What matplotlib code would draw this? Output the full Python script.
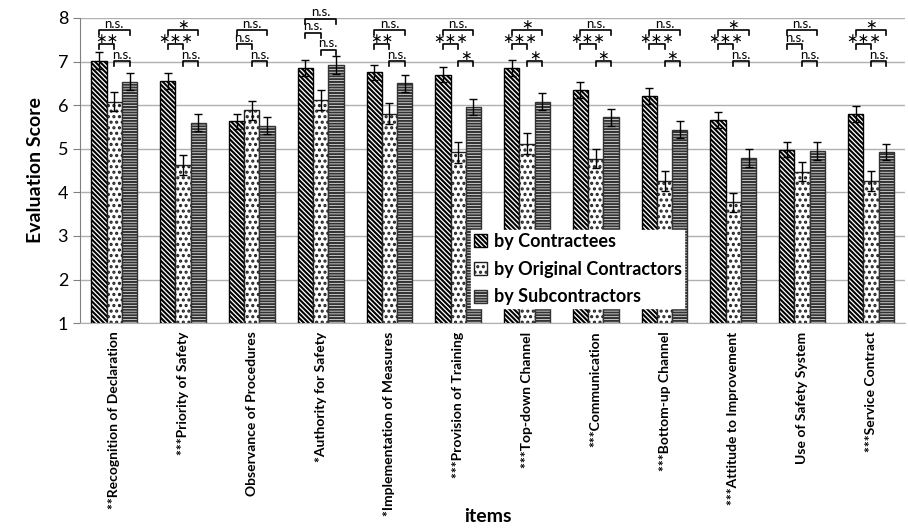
import numpy as np
import matplotlib
matplotlib.use("Agg")
import matplotlib.pyplot as plt

plt.rcParams['font.family'] = ['Lato', 'DejaVu Sans']
plt.rcParams['hatch.linewidth'] = 1.5

# item labels (significance mark of the overall test in front)
items = ["**Recognition of Declaration", "***Priority of Safety", "Observance of Procedures",
         "*Authority for Safety", "*Implementation of Measures", "***Provision of Training",
         "***Top-down Channel", "***Communication", "***Bottom-up Channel",
         "***Attitude to Improvement", "Use of Safety System", "***Service Contract"]

# mean scores
contractees = [7.02, 6.56, 5.63, 6.85, 6.75, 6.70, 6.85, 6.34, 6.21, 5.66, 4.98, 5.80]
original = [6.08, 4.63, 5.88, 6.11, 5.80, 4.92, 5.12, 4.77, 4.27, 3.77, 4.47, 4.27]
subcontractors = [6.54, 5.60, 5.53, 6.92, 6.50, 5.96, 6.08, 5.72, 5.44, 4.79, 4.95, 4.93]

# standard errors
err_c = [0.19, 0.18, 0.17, 0.18, 0.18, 0.18, 0.19, 0.18, 0.18, 0.19, 0.17, 0.18]
err_o = [0.22, 0.23, 0.22, 0.23, 0.24, 0.24, 0.23, 0.22, 0.23, 0.22, 0.22, 0.23]
err_s = [0.19, 0.19, 0.19, 0.21, 0.20, 0.19, 0.20, 0.19, 0.20, 0.20, 0.20, 0.19]

# pairwise test results
sig_cs = ["n.s.", "*", "n.s.", "n.s.", "n.s.", "n.s.", "*", "n.s.", "n.s.", "*", "n.s.", "*"]
sig_co = ["**", "***", "n.s.", "n.s.", "**", "***", "***", "***", "***", "***", "n.s.", "***"]
sig_os = ["n.s.", "n.s.", "n.s.", "n.s.", "n.s.", "*", "*", "*", "*", "n.s.", "n.s.", "n.s."]

fig = plt.figure(figsize=(9.08, 5.28), dpi=100)
ax = fig.add_axes([0.088, 0.388, 0.909, 0.578])

x = np.arange(len(items))
w = 0.222
ekw = dict(ecolor="black", elinewidth=1, capsize=3, capthick=1)

ax.bar(x - w, contractees, w, yerr=err_c, error_kw=ekw, color="white",
       edgecolor="black", hatch="\\\\\\\\\\\\\\", linewidth=1, label="by Contractees", zorder=2)
ax.bar(x, original, w, yerr=err_o, error_kw=ekw, color="white",
       edgecolor="#222222", hatch="...", linewidth=1, label="by Original Contractors", zorder=2)
ax.bar(x + w, subcontractors, w, yerr=err_s, error_kw=ekw, color="white",
       edgecolor="#333333", hatch="------", linewidth=1, label="by Subcontractors", zorder=2)

ax.set_ylim(1, 8)
ax.set_xlim(-0.5, len(items) - 0.5)
ax.set_yticks(range(1, 9))
ax.yaxis.grid(True, color="#b0b0b0", linewidth=1, zorder=0)
ax.set_axisbelow(True)
for s in ["top", "right"]:
    ax.spines[s].set_visible(False)
ax.spines["left"].set_color("#808080")
ax.spines["bottom"].set_color("#b0b0b0")
ax.tick_params(axis="y", labelsize=13, color="#808080", length=5)
ax.tick_params(axis="x", length=0, pad=6)
ax.set_xticks(x)
ax.set_xticklabels(items, rotation=90, fontsize=10, fontweight="bold")
ax.set_ylabel("Evaluation Score", fontsize=14, fontweight="bold", labelpad=10)
fig.text(0.537, 0.012, "items", fontsize=14, fontweight="bold", ha="center")

# significance brackets
lift = [0, 0, 0, 0.26, 0, 0, 0, 0, 0, 0, 0, 0]
tick = 0.11


def bracket(x1, x2, y, label):
    ax.plot([x1, x1, x2, x2], [y - tick, y, y, y - tick], color="black", lw=1.2,
            clip_on=False, zorder=5)
    if label == "n.s.":
        ax.text((x1 + x2) / 2, y + 0.01, label, ha="center", va="bottom",
                fontsize=9.5, zorder=6)
    else:
        ax.text((x1 + x2) / 2, y + 0.11, label.replace("*", "\u2217"), ha="center",
                va="center", fontsize=10, family="DejaVu Sans", zorder=6)


for i in range(len(items)):
    b = lift[i]
    bracket(i - w, i + w, 7.72 + b, sig_cs[i])
    bracket(i - w, i, 7.40 + b, sig_co[i])
    bracket(i, i + w, 7.01 + b, sig_os[i])

leg = ax.legend(loc="upper left", bbox_to_anchor=(0.474, 0.305), frameon=True,
                fancybox=False, edgecolor="white", framealpha=1, fontsize=13,
                handlelength=0.75, handleheight=0.75, handletextpad=0.35,
                borderpad=0.15, labelspacing=0.6, borderaxespad=0)
for t in leg.get_texts():
    t.set_fontweight("bold")

fig.savefig("out.png", dpi=100)
